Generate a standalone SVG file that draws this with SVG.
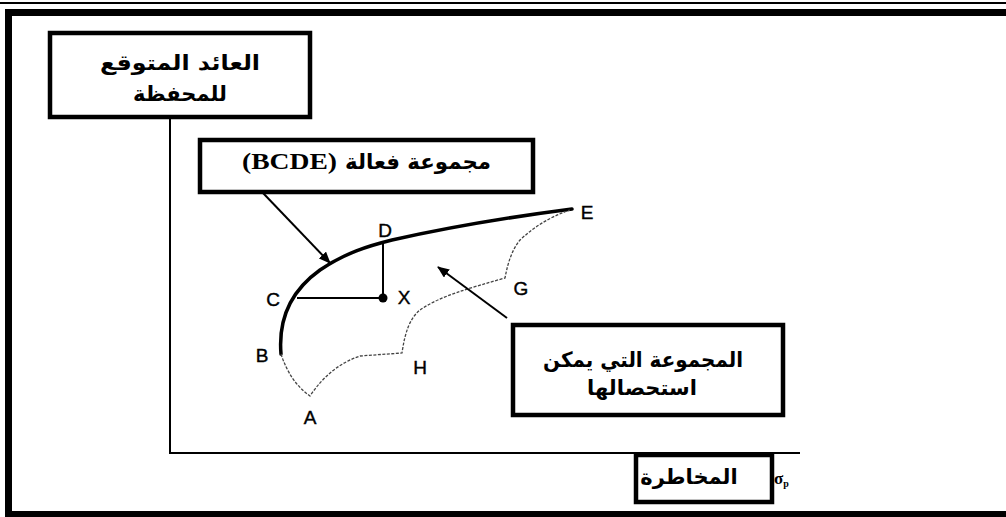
<svg xmlns="http://www.w3.org/2000/svg" width="1006" height="517" viewBox="0 0 1006 517">
  <style>
    .frame { fill: #000; }
    .box { fill: #fff; stroke: #000; stroke-width: 4.5; }
    .ar { font-family: "DejaVu Sans", sans-serif; font-weight: bold; font-size: 21px; fill: #000; direction: rtl; text-anchor: middle; }
    .lbl { font-family: "Liberation Sans", Arial, sans-serif; font-size: 19px; fill: #000; stroke: #000; stroke-width: 0.4; text-anchor: middle; }
    .axis { stroke: #000; stroke-width: 2; fill: none; }
    .arrow { stroke: #000; stroke-width: 2; fill: none; marker-end: url(#head); }
  </style>
  <defs>
    <marker id="head" viewBox="0 0 12 10" refX="11" refY="5" markerWidth="12" markerHeight="10" markerUnits="userSpaceOnUse" orient="auto">
      <path d="M0,0 L12,5 L0,10 Z" fill="#000"/>
    </marker>
  </defs>

  <rect width="1006" height="517" fill="#fff"/>

  <!-- page frame -->
  <g id="frame">
    <rect class="frame" x="0" y="2" width="1006" height="2"/>
    <rect class="frame" x="5" y="9" width="1001" height="7"/>
    <rect class="frame" x="5" y="9" width="7" height="508"/>
    <rect class="frame" x="5" y="511" width="1001" height="6"/>
  </g>

  <!-- axes -->
  <g id="axes">
    <line class="axis" x1="170" y1="117" x2="170" y2="454"/>
    <line class="axis" x1="169" y1="453" x2="800" y2="453"/>
  </g>

  <!-- connectors -->
  <g id="connectors">
    <!-- efficient frontier B-C-D-E -->
    <path d="M281,354 C278,318 292,290 320,270 C345,253 368,246 392,240 C450,227 510,217 572,209" fill="none" stroke="#000" stroke-width="3.5" stroke-linecap="round"/>
    <!-- boundary of the attainable set B-A-H-G-E -->
    <path d="M281,354 Q290,382 310,396 Q330,366 360,356 L402,353 C405,332 410,318 420,310 C440,296 470,288 505,278 C508,262 512,250 520,240 C535,226 550,217 570,210" fill="none" stroke="#444" stroke-width="1.3" stroke-dasharray="3 1.5"/>
    <!-- portfolio X -->
    <line x1="383" y1="243" x2="383" y2="298" stroke="#000" stroke-width="2"/>
    <line x1="297" y1="298" x2="383" y2="298" stroke="#000" stroke-width="2"/>
    <circle cx="383" cy="298" r="4.5" fill="#000"/>
    <!-- pointer arrows -->
    <line class="arrow" x1="263" y1="193" x2="330" y2="263"/>
    <line class="arrow" x1="507" y1="318" x2="438" y2="267"/>
  </g>

  <!-- point labels -->
  <g id="labels">
    <text class="lbl" x="385" y="237">D</text>
    <text class="lbl" x="587" y="219">E</text>
    <text class="lbl" x="273" y="306">C</text>
    <text class="lbl" x="404" y="304">X</text>
    <text class="lbl" x="521" y="295">G</text>
    <text class="lbl" x="262" y="362">B</text>
    <text class="lbl" x="420" y="374">H</text>
    <text class="lbl" x="310" y="424">A</text>
  </g>

  <!-- y-axis title -->
  <g id="node-return">
    <rect class="box" x="50" y="33" width="260" height="84"/>
    <text class="ar" x="180" y="70" textLength="160" lengthAdjust="spacingAndGlyphs">العائد المتوقع</text>
    <text class="ar" x="180" y="101">للمحفظة</text>
  </g>

  <!-- efficient set -->
  <g id="node-efficient">
    <rect class="box" x="200" y="140" width="333" height="52"/>
    <text x="242" y="169" font-family="Liberation Serif, serif" font-weight="bold" font-size="23" textLength="95" lengthAdjust="spacingAndGlyphs">(BCDE)</text>
    <text class="ar" x="418" y="169" textLength="146" lengthAdjust="spacingAndGlyphs">مجموعة فعالة</text>
  </g>

  <!-- attainable set -->
  <g id="node-attainable">
    <rect class="box" x="513" y="325" width="270" height="90"/>
    <text class="ar" x="643" y="367" textLength="200" lengthAdjust="spacingAndGlyphs">المجموعة التي يمكن</text>
    <text class="ar" x="642" y="395">استحصالها</text>
  </g>

  <!-- x-axis title -->
  <g id="node-risk">
    <rect class="box" x="636" y="455" width="136" height="47"/>
    <text class="ar" x="689" y="484" font-size="18">المخاطرة</text>
    <text x="774" y="484" font-family="Liberation Serif, serif" font-size="17" font-weight="bold">σ<tspan font-size="10" dy="3">p</tspan></text>
  </g>
</svg>
